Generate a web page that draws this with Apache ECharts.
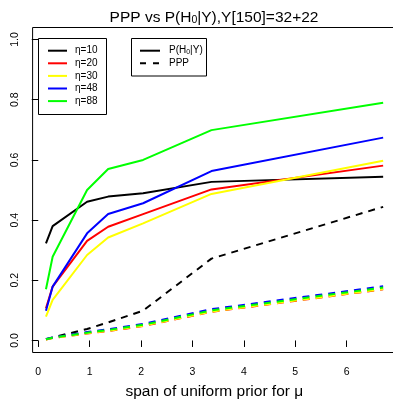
<!DOCTYPE html>
<html>
<head>
<meta charset="utf-8">
<script src="https://cdn.jsdelivr.net/npm/echarts@6/dist/echarts.min.js"></script>
<style>
html,body{margin:0;padding:0;background:#fff;}
#chart{width:393px;height:399px;}
</style>
</head>
<body>
<div id="chart"></div>
<script>
// ---- data ----
const xs = [0.15, 0.28, 0.95, 1.36, 2.04, 3.37, 6.71];
const etaLabels = ['η=10', 'η=20', 'η=30', 'η=48', 'η=88'];
const etaColors = ['#000000', '#FF0000', '#FFFF00', '#0000FF', '#00FF00'];
// posterior P(H0|Y) (solid)
const postEta10 = [0.323, 0.380, 0.461, 0.478, 0.489, 0.527, 0.544];
const postEta20 = [0.107, 0.179, 0.331, 0.378, 0.420, 0.502, 0.581];
const postEta30 = [0.079, 0.135, 0.284, 0.342, 0.389, 0.487, 0.597];
const postEta48 = [0.099, 0.179, 0.356, 0.420, 0.456, 0.563, 0.674];
const postEta88 = [0.170, 0.278, 0.500, 0.570, 0.600, 0.699, 0.790];
// PPP (dashed)
const pppEta10 = [0.004, 0.010, 0.038, 0.060, 0.099, 0.272, 0.444];
const pppEta20 = [0.003, 0.008, 0.023, 0.031, 0.048, 0.095, 0.170];
const pppEta30 = [0.003, 0.008, 0.024, 0.032, 0.049, 0.096, 0.171];
const pppEta48 = [0.005, 0.010, 0.028, 0.037, 0.055, 0.104, 0.180];
const pppEta88 = [0.004, 0.009, 0.026, 0.035, 0.052, 0.100, 0.176];
const xTicks = [0, 1, 2, 3, 4, 5, 6];
const yTicks = [0, 0.2, 0.4, 0.6, 0.8, 1.0];
const xAxisTitle = 'span of uniform prior for μ';

const postSeries = [postEta10, postEta20, postEta30, postEta48, postEta88];
const pppSeries = [pppEta10, pppEta20, pppEta30, pppEta48, pppEta88];

const FONT = '"Liberation Sans", Arial, Helvetica, sans-serif';
const zip = arr => xs.map((x, i) => [x, arr[i]]);

const series = [];
postSeries.forEach((arr, k) => {
  series.push({
    type: 'line', name: etaLabels[k], data: zip(arr), symbol: 'none',
    lineStyle: { color: etaColors[k], width: 2 }, silent: true, z: 2
  });
});
pppSeries.forEach((arr, k) => {
  series.push({
    type: 'line', name: etaLabels[k] + ' PPP', data: zip(arr), symbol: 'none',
    lineStyle: { color: etaColors[k], width: 2, type: [7, 6] }, silent: true, z: 2
  });
});

// ---- legends (decoration) ----
const graphics = [];
const subRich = {
  n: { fontFamily: FONT, fontSize: 10, fill: '#000' },
  sub: { fontFamily: FONT, fontSize: 7, fill: '#000', verticalAlign: 'bottom', padding: [3, 0, 0, 0] }
};
graphics.push({ type: 'rect', shape: { x: 38.5, y: 38.5, width: 68, height: 76 },
  style: { fill: '#fff', stroke: '#000', lineWidth: 1 }, z: 10 });
etaLabels.forEach((lab, i) => {
  const y = 50.7 + 12.6 * i;
  graphics.push({ type: 'line', shape: { x1: 48, y1: y, x2: 67, y2: y },
    style: { stroke: etaColors[i], lineWidth: 2 }, z: 11 });
  graphics.push({ type: 'text', x: 75, y: y,
    style: { text: lab, font: '10px ' + FONT, fill: '#000', textVerticalAlign: 'middle', textAlign: 'left' }, z: 11 });
});
graphics.push({ type: 'rect', shape: { x: 131.5, y: 38.5, width: 75, height: 37.5 },
  style: { fill: '#fff', stroke: '#000', lineWidth: 1 }, z: 10 });
['P(H0|Y)', 'PPP'].forEach((lab, i) => {
  const y = 50.7 + 12.6 * i;
  graphics.push({ type: 'line', shape: { x1: 140, y1: y, x2: 160, y2: y },
    style: { stroke: '#000', lineWidth: 2, lineDash: i === 1 ? [6, 7] : null }, z: 11 });
  graphics.push({ type: 'text', x: 169, y: y,
    style: { text: i === 0 ? '{n|P(H}{sub|0}{n||Y)}' : '{n|PPP}', rich: subRich, textVerticalAlign: 'middle', textAlign: 'left' }, z: 11 });
});
// title
graphics.push({ type: 'text', x: 214, y: 17.5,
  style: {
    text: '{t|PPP vs P(H}{s|0}{t||Y),Y[150]=32+22}',
    rich: {
      t: { fontFamily: FONT, fontSize: 15.5, fill: '#000' },
      s: { fontFamily: FONT, fontSize: 10.5, fill: '#000', verticalAlign: 'bottom', padding: [4, 0, 0, 0] }
    },
    textAlign: 'center', textVerticalAlign: 'middle'
  }, z: 11 });

const chart = echarts.init(document.getElementById('chart'), null, { renderer: 'canvas' });
chart.setOption({
  animation: false,
  backgroundColor: '#fff',
  grid: { left: 32.6, top: 27.5, width: 363.4, height: 325, outerBoundsMode: 'none', containLabel: false,
    show: true, borderColor: '#000', borderWidth: 1, backgroundColor: 'transparent' },
  xAxis: {
    type: 'value', min: -0.11, max: 6.96,
    axisLine: { show: false },
    splitLine: { show: false },
    axisTick: { show: true, customValues: xTicks, length: 6.5, lineStyle: { color: '#000', width: 1 } },
    axisLabel: { customValues: xTicks, margin: 14, fontSize: 10.5, fontFamily: FONT, color: '#000', formatter: v => String(v) },
    name: xAxisTitle, nameLocation: 'middle', nameGap: 31,
    nameTextStyle: { fontSize: 15.5, fontFamily: FONT, color: '#000' }
  },
  yAxis: {
    type: 'value', min: -0.04, max: 1.04,
    axisLine: { show: false },
    splitLine: { show: false },
    axisTick: { show: true, customValues: yTicks, length: 6.5, lineStyle: { color: '#000', width: 1 } },
    axisLabel: { customValues: yTicks, rotate: 90, margin: 12, fontSize: 10.5, fontFamily: FONT, color: '#000', formatter: v => v.toFixed(1) }
  },
  series: series,
  graphic: graphics
});
</script>
</body>
</html>
